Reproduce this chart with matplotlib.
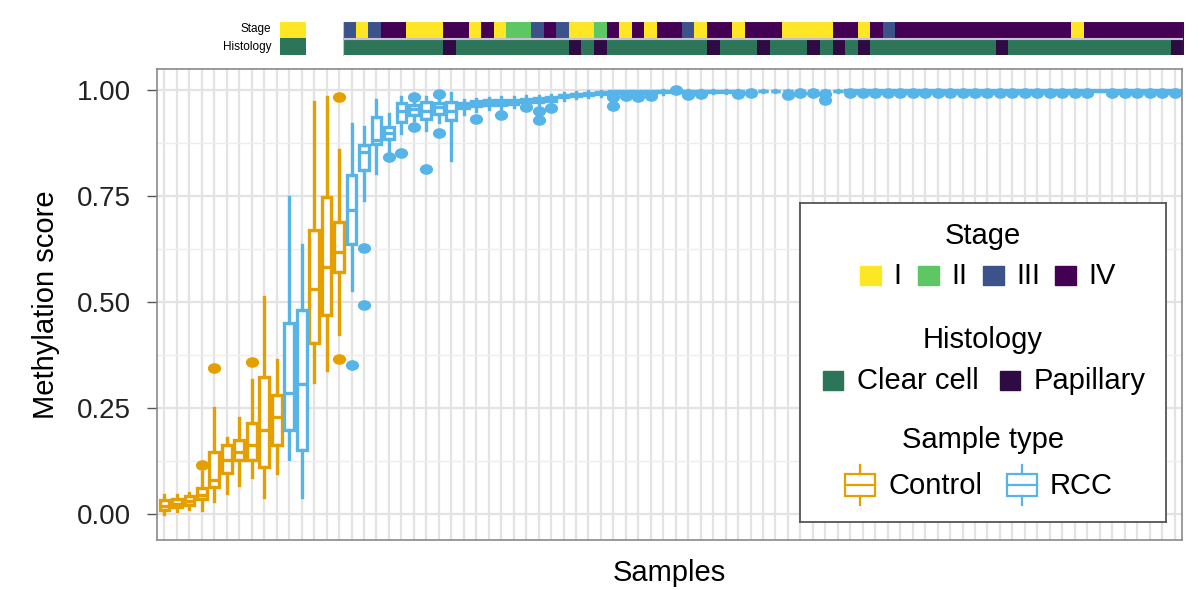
import matplotlib
matplotlib.use("Agg")
import matplotlib.pyplot as plt
from matplotlib.path import Path
from matplotlib.patches import Rectangle
from matplotlib.transforms import Affine2D
from matplotlib.colors import ListedColormap
import numpy as np

plt.rcParams["font.family"] = ["Liberation Sans", "DejaVu Sans"]

# sample type per box, ordered by median methylation score (C = Control, R = RCC)
sample_type = ["C", "C", "C", "C", "C", "C", "C", "C", "C", "C",
               "R", "R", "C", "C", "C", "R", "R", "R", "R", "R",
               "R", "R", "R", "R", "R", "R", "R", "R", "R", "R",
               "R", "R", "R", "R", "R", "R", "R", "R", "R", "R",
               "R", "R", "R", "R", "R", "R", "R", "R", "R", "R",
               "R", "R", "R", "R", "R", "R", "R", "R", "R", "R",
               "R", "R", "R", "R", "R", "R", "R", "R", "R", "R",
               "R", "R", "R", "R", "R", "R", "R", "R", "R", "R",
               "R", "R"]

# box statistics
whislo = [0.000, 0.008, 0.012, 0.010, 0.030, 0.050, 0.068, 0.088, 0.040, 0.097,
          0.131, 0.040, 0.312, 0.340, 0.426, 0.528, 0.740, 0.804, 0.855, 0.900,
          0.930, 0.906, 0.925, 0.835, 0.945, 0.950, 0.955, 0.955, 0.960, 0.965,
          0.966, 0.970, 0.978, 0.982, 0.985, 0.987, 0.990, 0.990, 0.991, 0.991,
          0.992, 0.993, 0.993, 0.993, 0.994, 0.994, 0.994, 0.995, 0.995, 0.995,
          0.995, 0.995, 0.996, 0.996, 0.996, 0.997, 0.997, 0.997, 0.997, 0.997,
          0.997, 0.997, 0.997, 0.997, 0.997, 0.997, 0.997, 0.997, 0.997, 0.997,
          0.997, 0.997, 0.997, 0.997, 0.997, 0.997, 0.997, 0.997, 0.997, 0.997,
          0.997, 0.997]
q1 = [0.010, 0.018, 0.022, 0.035, 0.064, 0.097, 0.127, 0.127, 0.111, 0.163,
      0.198, 0.151, 0.403, 0.469, 0.571, 0.638, 0.811, 0.874, 0.886, 0.925,
      0.941, 0.933, 0.945, 0.929, 0.958, 0.962, 0.965, 0.965, 0.968, 0.972,
      0.973, 0.975, 0.983, 0.987, 0.989, 0.990, 0.993, 0.993, 0.994, 0.994,
      0.995, 0.995, 0.995, 0.996, 0.996, 0.996, 0.996, 0.997, 0.997, 0.997,
      0.997, 0.997, 0.997, 0.997, 0.997, 0.998, 0.998, 0.998, 0.998, 0.998,
      0.998, 0.998, 0.998, 0.998, 0.998, 0.998, 0.998, 0.998, 0.998, 0.998,
      0.998, 0.998, 0.998, 0.998, 0.998, 0.998, 0.998, 0.998, 0.998, 0.998,
      0.998, 0.998]
med = [0.020, 0.025, 0.030, 0.045, 0.080, 0.127, 0.147, 0.163, 0.198, 0.230,
       0.285, 0.308, 0.532, 0.583, 0.619, 0.717, 0.855, 0.882, 0.900, 0.950,
       0.955, 0.950, 0.960, 0.950, 0.963, 0.968, 0.970, 0.971, 0.973, 0.976,
       0.977, 0.979, 0.986, 0.990, 0.992, 0.993, 0.995, 0.995, 0.996, 0.996,
       0.997, 0.997, 0.997, 0.997, 0.998, 0.998, 0.998, 0.998, 0.998, 0.998,
       0.998, 0.998, 0.998, 0.998, 0.998, 0.999, 0.999, 0.999, 0.999, 0.999,
       0.999, 0.999, 0.999, 0.999, 0.999, 0.999, 0.999, 0.999, 0.999, 0.999,
       0.999, 0.999, 0.999, 0.999, 0.999, 0.999, 0.999, 0.999, 0.999, 0.999,
       0.999, 0.999]
q3 = [0.033, 0.035, 0.042, 0.062, 0.147, 0.163, 0.175, 0.215, 0.324, 0.280,
      0.450, 0.481, 0.670, 0.748, 0.689, 0.800, 0.870, 0.937, 0.914, 0.969,
      0.965, 0.972, 0.970, 0.972, 0.969, 0.974, 0.976, 0.977, 0.978, 0.980,
      0.981, 0.983, 0.989, 0.992, 0.994, 0.995, 0.997, 0.997, 0.998, 0.998,
      0.998, 0.998, 0.999, 0.999, 0.999, 0.999, 0.999, 0.999, 0.999, 0.999,
      0.999, 0.999, 0.999, 0.999, 0.999, 1.000, 1.000, 1.000, 1.000, 1.000,
      1.000, 1.000, 1.000, 1.000, 1.000, 1.000, 1.000, 1.000, 1.000, 1.000,
      1.000, 1.000, 1.000, 1.000, 1.000, 1.000, 1.000, 1.000, 1.000, 1.000,
      1.000, 1.000]
whishi = [0.045, 0.045, 0.050, 0.100, 0.250, 0.180, 0.226, 0.316, 0.512, 0.363,
          0.748, 0.634, 0.972, 0.984, 0.858, 0.921, 0.914, 0.976, 0.945, 0.984,
          0.975, 0.985, 0.980, 0.993, 0.978, 0.980, 0.982, 0.983, 0.985, 0.986,
          0.987, 0.988, 0.993, 0.995, 0.997, 0.998, 0.999, 0.999, 0.999, 0.999,
          1.000, 0.999, 1.000, 1.000, 1.000, 1.000, 1.000, 1.000, 1.000, 1.000,
          1.000, 1.000, 1.000, 1.000, 1.000, 1.000, 1.000, 1.000, 1.000, 1.000,
          1.000, 1.000, 1.000, 1.000, 1.000, 1.000, 1.000, 1.000, 1.000, 1.000,
          1.000, 1.000, 1.000, 1.000, 1.000, 1.000, 1.000, 1.000, 1.000, 1.000,
          1.000, 1.000]
outliers = [[], [], [], [0.115], [0.345], [], [], [0.360], [], [],
            [], [], [], [], [0.984, 0.367], [0.352], [0.627, 0.493], [], [0.843], [0.851],
            [0.984, 0.913], [0.815], [0.992, 0.900], [], [], [0.933], [], [0.941], [], [0.960],
            [0.950, 0.930], [0.957], [], [], [], [], [0.984, 0.962], [0.986], [0.985], [0.987],
            [], [1.000], [0.988], [0.991], [], [], [0.991], [0.993], [], [],
            [0.988], [0.993], [0.993], [0.990, 0.976], [], [0.994], [0.994], [0.994], [0.994], [0.994],
            [0.994], [0.994], [0.994], [0.994], [0.994], [0.994], [0.994], [0.994], [0.994], [0.994],
            [0.994], [0.994], [0.994], [0.994], [0.994], [], [0.994], [0.994], [0.994], [0.994],
            [0.994], [0.994]]

type_codes = ["C", "R"]
type_labels = ["Control", "RCC"]
type_colors = ["#E69F00", "#56B4E9"]

# annotation tracks for the tumour samples
stage = ["III", "I", "III", "IV", "IV", "I", "I", "I", "IV", "IV",
         "I", "IV", "I", "II", "II", "III", "IV", "III", "I", "I",
         "II", "IV", "I", "IV", "I", "IV", "IV", "III", "I", "IV",
         "IV", "I", "IV", "IV", "IV", "I", "I", "I", "I", "IV",
         "IV", "I", "IV", "III", "IV", "IV", "IV", "IV", "IV", "IV",
         "IV", "IV", "IV", "IV", "IV", "IV", "IV", "IV", "I", "IV",
         "IV", "IV", "IV", "IV", "IV", "IV", "IV"]
histology = ["Clear cell"] * 67
for k in [8, 18, 20, 29, 33, 37, 39, 41, 52, 66]:
    histology[k] = "Papillary"

stage_levels = ["I", "II", "III", "IV"]
stage_colors = ["#FDE725", "#5DC863", "#3B528B", "#440154"]
histology_levels = ["Clear cell", "Papillary"]
histology_colors = ["#2D7558", "#2E0B42"]

W, H = 1200, 590
fig = plt.figure(figsize=(W / 100, H / 100), dpi=100)

# main panel
ax = fig.add_axes([157 / W, 50 / H, 1025 / W, 471 / H])
n = len(med)
stats = [dict(whislo=whislo[i], q1=q1[i], med=med[i], q3=q3[i],
              whishi=whishi[i], fliers=outliers[i]) for i in range(n)]
dot = Path.unit_circle().transformed(Affine2D().scale(1.0, 0.78))
for code, color in zip(type_codes, type_colors):
    pos = [i for i in range(n) if sample_type[i] == code]
    ax.bxp([stats[i] for i in pos], positions=pos, widths=0.78,
           patch_artist=True, showcaps=False, manage_ticks=False,
           boxprops=dict(facecolor="white", edgecolor=color, linewidth=2.4),
           whiskerprops=dict(color=color, linewidth=2.4),
           medianprops=dict(color=color, linewidth=2.4),
           flierprops=dict(marker=dot, markerfacecolor=color,
                           markeredgecolor=color, markersize=8.5))

ax.set_xlim(-0.6, n - 0.4)
ax.set_ylim(-0.061, 1.05)
ax.set_xticks(np.arange(n))
ax.set_yticks([0, 0.25, 0.5, 0.75, 1.0])
ax.set_yticks([0.125, 0.375, 0.625, 0.875], minor=True)
ax.set_yticklabels(["0.00", "0.25", "0.50", "0.75", "1.00"])
ax.tick_params(axis="x", length=0, labelbottom=False)
ax.tick_params(axis="y", which="major", length=7, width=1, color="#555555",
               pad=12, labelsize=20, labelcolor="#222222")
ax.tick_params(axis="y", which="minor", length=0)
ax.set_axisbelow(True)
ax.grid(axis="x", color="#e3e3e3", linewidth=1.6)
ax.grid(axis="y", which="major", color="#e3e3e3", linewidth=1.6)
ax.grid(axis="y", which="minor", color="#eeeeee", linewidth=1.0)
for s in ax.spines.values():
    s.set_color("#8a8a8a")
    s.set_linewidth(1.2)
ax.set_xlabel("Samples", fontsize=21, labelpad=14)
ax.set_ylabel("Methylation score", fontsize=21, labelpad=12)

# annotation tracks on top
stage_cmap = ListedColormap(stage_colors)
hist_cmap = ListedColormap(histology_colors)
stage_idx = np.array([[stage_levels.index(s) for s in stage]])
hist_idx = np.array([[histology_levels.index(h) for h in histology]])
m = len(stage)

ann = fig.add_axes([342.7 / W, 1 - 55.5 / H, 840.3 / W, 34 / H])
ann.imshow(stage_idx, cmap=stage_cmap, vmin=-0.5, vmax=3.5, aspect="auto",
           interpolation="nearest", extent=(-0.5, m - 0.5, 0.55, 1.5))
ann.imshow(hist_idx, cmap=hist_cmap, vmin=-0.5, vmax=1.5, aspect="auto",
           interpolation="nearest", extent=(-0.5, m - 0.5, -0.5, 0.45))
for y0 in (0.55, -0.5):
    ann.add_patch(Rectangle((-0.5, y0), m, 0.95, fill=False,
                            edgecolor="#c9bfd9", linewidth=0.8))
ann.set_xlim(-0.5, m - 0.5)
ann.set_ylim(-0.5, 1.5)
ann.axis("off")

# small key in front of the tracks
key = fig.add_axes([280 / W, 1 - 55.5 / H, 26 / W, 34 / H])
key.imshow([[0]], cmap=stage_cmap, vmin=-0.5, vmax=3.5, aspect="auto",
           extent=(-0.5, 0.5, 0.55, 1.5))
key.imshow([[0]], cmap=hist_cmap, vmin=-0.5, vmax=1.5, aspect="auto",
           extent=(-0.5, 0.5, -0.5, 0.45))
key.set_xlim(-0.5, 0.5)
key.set_ylim(-0.5, 1.5)
key.axis("off")
fig.text(271 / W, 1 - 29 / H, "Stage", ha="right", va="center", fontsize=8.5)
fig.text(271 / W, 1 - 47 / H, "Histology", ha="right", va="center", fontsize=8.5)

# legend box
leg = fig.add_axes([800 / W, 1 - 522 / H, 366 / W, 319 / H])
leg.set_xlim(0, 366)
leg.set_ylim(319, 0)
leg.set_xticks([])
leg.set_yticks([])
for s in leg.spines.values():
    s.set_color("#555555")
    s.set_linewidth(1.3)

leg.text(183, 33, "Stage", ha="center", va="center", fontsize=21)
for lvl, col, x in zip(stage_levels, stage_colors, [60, 118, 183, 255]):
    leg.add_patch(Rectangle((x, 63), 21, 19, color=col))
    leg.text(x + 33, 73, lvl, va="center", fontsize=21)

leg.text(183, 137, "Histology", ha="center", va="center", fontsize=21)
for lvl, col, x in zip(histology_levels, histology_colors, [23, 200]):
    leg.add_patch(Rectangle((x, 168), 20, 19, color=col))
    leg.text(x + 34, 178, lvl, va="center", fontsize=21)

leg.text(183, 237, "Sample type", ha="center", va="center", fontsize=21)
for lvl, col, x in zip(type_labels, type_colors, [45, 207]):
    leg.add_patch(Rectangle((x, 271), 30, 22, fill=False, edgecolor=col, linewidth=1.6))
    leg.plot([x, x + 30], [282, 282], color=col, linewidth=1.6)
    leg.plot([x + 15, x + 15], [262, 271], color=col, linewidth=1.6)
    leg.plot([x + 15, x + 15], [293, 302], color=col, linewidth=1.6)
    leg.text(x + 43, 283, lvl, va="center", fontsize=21)

fig.savefig("out.png", dpi=100)
